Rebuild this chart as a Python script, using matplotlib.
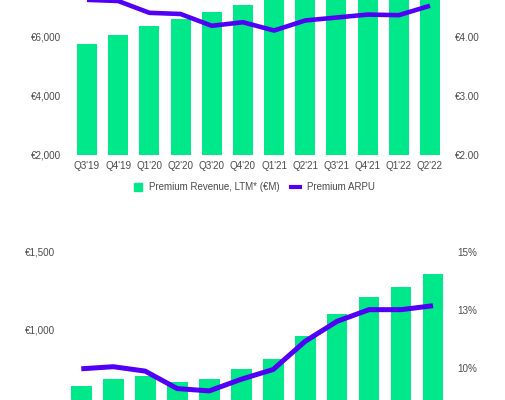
import matplotlib
matplotlib.use('Agg')
import matplotlib.pyplot as plt
from matplotlib.lines import Line2D
from matplotlib.ticker import FixedLocator, FixedFormatter

plt.rcParams['font.family'] = ['Liberation Sans', 'DejaVu Sans']

quarters = ["Q3'19", "Q4'19", "Q1'20", "Q2'20", "Q3'20", "Q4'20",
            "Q1'21", "Q2'21", "Q3'21", "Q4'21", "Q1'22", "Q2'22"]

# top chart: premium revenue LTM (EUR M) and premium ARPU (EUR)
premium_revenue = [5750, 6060, 6360, 6610, 6840, 7100,
                   7400, 7650, 7900, 8150, 8400, 8700]
premium_arpu = [4.63, 4.61, 4.41, 4.39, 4.19, 4.25,
                4.11, 4.28, 4.33, 4.38, 4.37, 4.53]

# bottom chart: values and margin (%)
bottom_values = [635, 678, 699, 662, 678, 742,
                 811, 957, 1097, 1208, 1272, 1358]
bottom_pct = [9.97, 10.06, 9.87, 9.12, 9.02, 9.52,
              9.94, 11.15, 12.01, 12.51, 12.51, 12.68]

left_ticks_top = [2000, 4000, 6000, 8000]
left_labels_top = ['€2,000', '€4,000', '€6,000', '€8,000']
right_ticks_top = [2, 3, 4, 5]
right_labels_top = ['€2.00', '€3.00', '€4.00', '€5.00']
left_ticks_bot = [0, 500, 1000, 1500]
left_labels_bot = ['€0', '€500', '€1,000', '€1,500']
right_ticks_bot = [5, 7.5, 10, 12.5, 15]
right_labels_bot = ['5%', '8%', '10%', '13%', '15%']

GREEN = '#00E88A'
PURPLE = '#5200F5'
TEXT = '#4a4a4a'
FS = 7.1

W, H = 505, 400
fig = plt.figure(figsize=(W / 100, H / 100), dpi=100)


def axes_px(left, top, right, bottom):
    return fig.add_axes([left / W, 1 - bottom / H, (right - left) / W, (bottom - top) / H])


def style(ax):
    for s in ax.spines.values():
        s.set_visible(False)
    ax.tick_params(length=0, labelsize=FS, labelcolor=TEXT)


x = list(range(len(quarters)))

# ---- top chart
ax1 = axes_px(68.3, -22, 448.7, 155)
ax1.bar(x, premium_revenue, width=0.64, bottom=0, color=GREEN, zorder=2)
ax1.set_ylim(2000, 8000)
ax1.set_xlim(-0.6, 11.6)
ax1.yaxis.set_major_locator(FixedLocator(left_ticks_top))
ax1.yaxis.set_major_formatter(FixedFormatter(left_labels_top))
ax1.set_xticks(x)
ax1.set_xticklabels(quarters)
style(ax1)
ax1.tick_params(axis='y', pad=5)
ax1.tick_params(axis='x', pad=4)
ax1b = ax1.twinx()
ax1b.plot(x, premium_arpu, color=PURPLE, lw=3.3, solid_capstyle='butt', zorder=3)
ax1b.set_ylim(2, 5)
ax1b.yaxis.set_major_locator(FixedLocator(right_ticks_top))
ax1b.yaxis.set_major_formatter(FixedFormatter(right_labels_top))
style(ax1b)
ax1b.tick_params(axis='y', pad=4.6)

# legend
handles = [Line2D([], [], marker='s', ls='none', color=GREEN, markersize=6),
           Line2D([], [], color=PURPLE, lw=3)]
fig.legend(handles, ['Premium Revenue, LTM* (€M)', 'Premium ARPU'],
           loc='center', bbox_to_anchor=(254 / W, 1 - 187.5 / H), ncol=2,
           frameon=False, fontsize=7.0, labelcolor=TEXT, handlelength=0.9,
           handletextpad=0.7, columnspacing=1.2)

# ---- bottom chart
ax2 = axes_px(62.1, 251.7, 452.2, 484.5)
ax2.bar(x, bottom_values, width=0.65, color=GREEN, zorder=2)
ax2.set_ylim(0, 1500)
ax2.set_xlim(-0.6, 11.6)
ax2.yaxis.set_major_locator(FixedLocator(left_ticks_bot))
ax2.yaxis.set_major_formatter(FixedFormatter(left_labels_bot))
ax2.set_xticks(x)
ax2.set_xticklabels(quarters)
style(ax2)
ax2.tick_params(axis='y', pad=5)
ax2b = ax2.twinx()
ax2b.plot(x, bottom_pct, color=PURPLE, lw=3.6, solid_capstyle='butt', zorder=3)
ax2b.set_ylim(5, 15)
ax2b.yaxis.set_major_locator(FixedLocator(right_ticks_bot))
ax2b.yaxis.set_major_formatter(FixedFormatter(right_labels_bot))
style(ax2b)
ax2b.tick_params(axis='y', pad=3.5)

fig.savefig('out.png', dpi=100, facecolor='white')
